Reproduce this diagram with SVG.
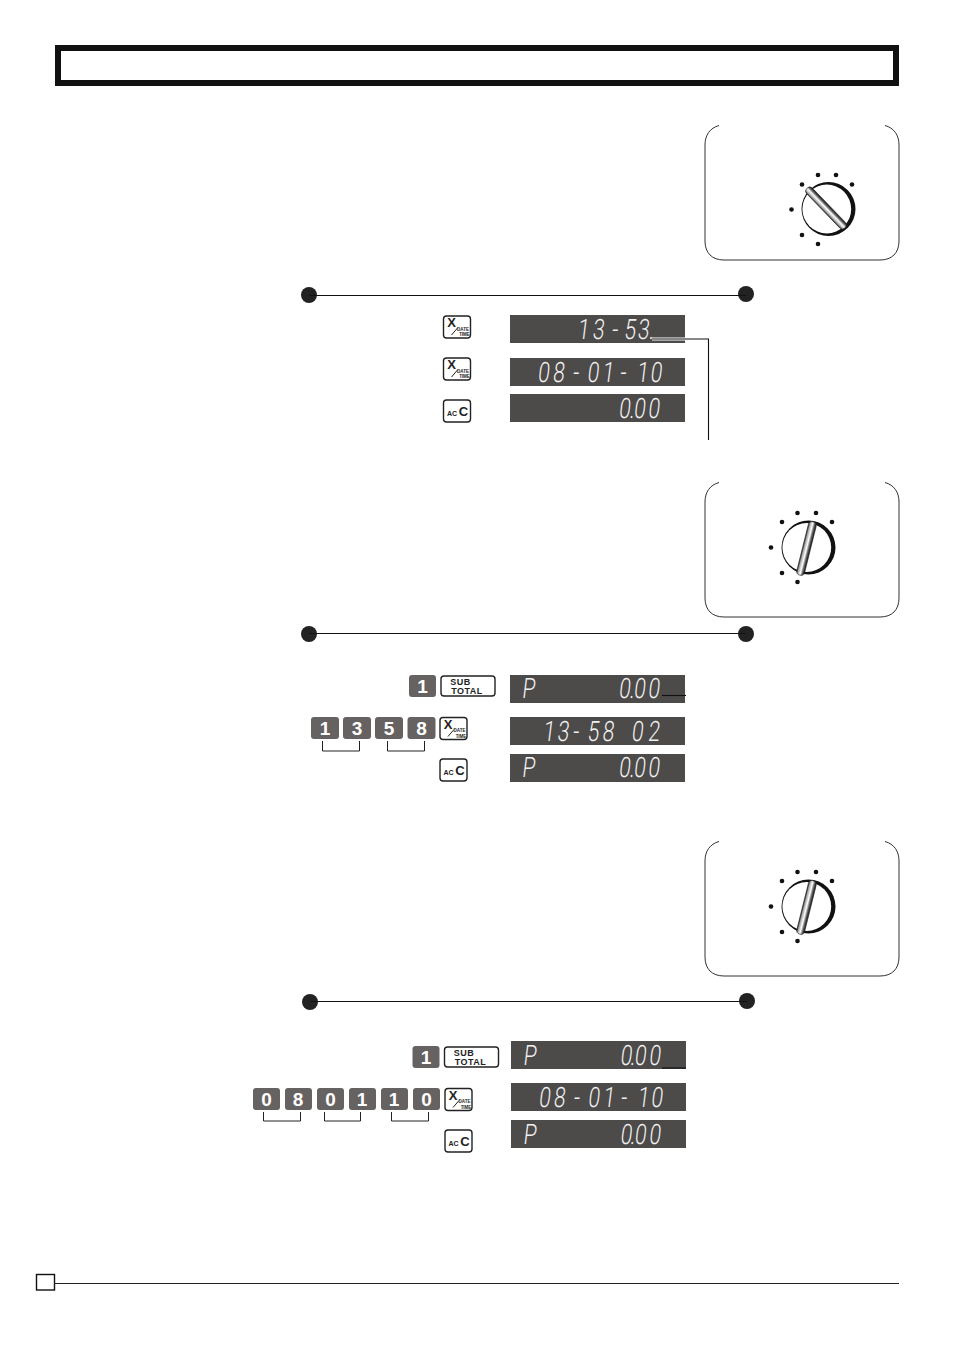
<svg xmlns="http://www.w3.org/2000/svg" xmlns:xlink="http://www.w3.org/1999/xlink" width="954" height="1349" viewBox="0 0 954 1349">
<style>
.panel{fill:none;stroke:#333;stroke-width:1}
.dot{fill:#111}
.disp{fill:#4d4a4a}
.seg{font-family:Roboto,"Liberation Sans",sans-serif;font-weight:300;font-size:28px;fill:#f0f0f0;text-anchor:middle}
.num{fill:#666262}
.numt{font-family:"Liberation Sans",Arial,sans-serif;font-weight:bold;font-size:19px;fill:#fff;text-anchor:middle}
.key{fill:#fff;stroke:#222;stroke-width:1.4}
.kt{font-family:"Liberation Sans",Arial,sans-serif;font-weight:bold;fill:#222;text-anchor:middle}
.wire{fill:none;stroke:#111;stroke-width:1.1}
.brk{fill:none;stroke:#222;stroke-width:1}
.end{fill:#222}
</style>
<defs>
<linearGradient id="stick" x1="0" y1="0" x2="1" y2="0"><stop offset="0" stop-color="#222"/><stop offset=".2" stop-color="#aaa"/><stop offset=".5" stop-color="#fff"/><stop offset=".75" stop-color="#666"/><stop offset="1" stop-color="#111"/></linearGradient>
<g id="mul"><rect class="key" x="0" y="0" width="27" height="22" rx="3"/><text class="kt" x="8" y="11" font-size="13">X</text><path d="M8 19L14 12" stroke="#222" stroke-width="1" fill="none"/><text class="kt" x="19.500" y="14.500" font-size="4.500">DATE</text><text class="kt" x="21" y="20" font-size="4.500">TIME</text></g>
<g id="ac"><rect class="key" x="0" y="0" width="27" height="22" rx="3"/><text class="kt" x="8.500" y="16" font-size="7">AC</text><text class="kt" x="20" y="15.500" font-size="13">C</text></g>
<g id="sub"><rect class="key" x="0" y="0" width="54" height="20" rx="3"/><text class="kt" x="19.500" y="8.500" font-size="9" letter-spacing=".5">SUB</text><text class="kt" x="26" y="18" font-size="9" letter-spacing=".5">TOTAL</text></g>
<g id="dial2">
<circle cx="808.500" cy="547.500" r="27" fill="#111"/>
<circle cx="806.800" cy="547.500" r="24.400" fill="#fff"/>
<g transform="rotate(14 806.500 548.500)"><rect x="802.500" y="521" width="8" height="55" rx="4" fill="url(#stick)" stroke="#222" stroke-width=".6"/></g>
<circle class="dot" cx="782" cy="522" r="2.300"/><circle class="dot" cx="797.500" cy="513" r="2.300"/><circle class="dot" cx="816" cy="513" r="2.300"/><circle class="dot" cx="832" cy="522" r="2.300"/><circle class="dot" cx="771" cy="547.500" r="2.300"/><circle class="dot" cx="782" cy="573" r="2.300"/><circle class="dot" cx="797.500" cy="582" r="2.300"/>
</g>
</defs>
<rect width="954" height="1349" fill="#fff"/>

<g id="header"><rect x="58" y="48" width="838" height="35" fill="#fff" stroke="#111" stroke-width="6"/></g>

<g id="panel1">
<path class="panel" d="M719 125.500C710 128 705 135 705 145V241C705 253 712 260 724 260H880C892 260 899 253 899 241V145C899 135 894 128 885 125.500"/>
<circle cx="828.500" cy="209" r="27" fill="#111"/>
<circle cx="826.800" cy="209" r="24.400" fill="#fff"/>
<g transform="rotate(-44 826 208)"><rect x="822" y="180.500" width="8" height="55" rx="4" fill="url(#stick)" stroke="#222" stroke-width=".6"/></g>
<circle class="dot" cx="802" cy="184.500" r="2.300"/><circle class="dot" cx="818" cy="175" r="2.300"/><circle class="dot" cx="836" cy="175" r="2.300"/><circle class="dot" cx="852" cy="184.500" r="2.300"/><circle class="dot" cx="791.500" cy="209.500" r="2.300"/><circle class="dot" cx="802" cy="235" r="2.300"/><circle class="dot" cx="818" cy="244" r="2.300"/>
</g>
<g id="panel2">
<path class="panel" d="M719 482.500C710 485 705 492 705 502V598C705 610 712 617 724 617H880C892 617 899 610 899 598V502C899 492 894 485 885 482.500"/>
<use xlink:href="#dial2" href="#dial2"/>
</g>
<g id="panel3">
<path class="panel" d="M719 841.500C710 844 705 851 705 861V957C705 969 712 976 724 976H880C892 976 899 969 899 957V861C899 851 894 844 885 841.500"/>
<use xlink:href="#dial2" href="#dial2" y="359"/>
</g>

<g id="timeline1"><circle class="end" cx="309" cy="295" r="8"/><circle class="end" cx="746" cy="294" r="8"/></g>
<g id="timeline2"><circle class="end" cx="309" cy="634" r="8"/><circle class="end" cx="746" cy="634" r="8"/></g>
<g id="timeline3"><circle class="end" cx="310" cy="1002" r="8"/><circle class="end" cx="747" cy="1001" r="8"/></g>

<g id="display1"><rect class="disp" x="510" y="315" width="175" height="28"/><text class="seg" transform="translate(0,339) skewX(-7) scale(.75,1)" x="777 797 819 839 857 868" y="0">13-53.</text></g>
<g id="display2"><rect class="disp" x="510" y="358" width="175" height="28"/><text class="seg" transform="translate(0,382) skewX(-7) scale(.75,1)" x="724 744 767 790 810 830 856 874" y="0">08-01-10</text></g>
<g id="display3"><rect class="disp" x="510" y="394" width="175" height="28"/><text class="seg" transform="translate(0,418) skewX(-7) scale(.75,1)" x="832 842 852 871" y="0">0.00</text></g>
<g id="display4"><rect class="disp" x="510" y="675" width="175" height="28"/><text class="seg" transform="translate(0,698) skewX(-7) scale(.75,1)" x="704 832 842 852 871" y="0">P0.00</text></g>
<g id="display5"><rect class="disp" x="510" y="717" width="175" height="28"/><text class="seg" transform="translate(0,741) skewX(-7) scale(.75,1)" x="731 750 767 790 810 849 871" y="0">13-5802</text></g>
<g id="display6"><rect class="disp" x="510" y="754" width="175" height="28"/><text class="seg" transform="translate(0,777) skewX(-7) scale(.75,1)" x="704 832 842 852 871" y="0">P0.00</text></g>
<g id="display7"><rect class="disp" x="511" y="1041" width="175" height="28"/><text class="seg" transform="translate(0,1065) skewX(-7) scale(.75,1)" x="705.500 834 843 853 872.500" y="0">P0.00</text></g>
<g id="display8"><rect class="disp" x="511" y="1083" width="175" height="28"/><text class="seg" transform="translate(0,1107) skewX(-7) scale(.75,1)" x="725.500 745 768 791 811 831 857 875" y="0">08-01-10</text></g>
<g id="display9"><rect class="disp" x="511" y="1120" width="175" height="28"/><text class="seg" transform="translate(0,1144) skewX(-7) scale(.75,1)" x="705.500 834 843 853 872.500" y="0">P0.00</text></g>

<g id="connectors">
<path d="M652 339H685" fill="none" stroke="#fff" stroke-width="3"/>
<path class="wire" d="M652 339H708.500V440"/>
<path class="wire" d="M662 695.500H686"/>
<path class="wire" d="M662 1068H686"/>
<path class="wire" d="M309 295.500H746"/>
<path class="wire" d="M309 633.500H746"/>
<path class="wire" d="M310 1001.500H747"/>
<path class="brk" d="M322.500 741V751H359.500V741M387.500 741V751H424.500V741"/>
<path class="brk" d="M263.500 1112V1121H300.500V1112M324.500 1112V1121H360.500V1112M391.500 1112V1121H428.500V1112"/>
</g>

<g id="keys1">
<use xlink:href="#mul" href="#mul" x="443.500" y="316"/>
<use xlink:href="#mul" href="#mul" x="443.500" y="358"/>
<use xlink:href="#ac" href="#ac" x="443.500" y="400"/>
</g>
<g id="keys2">
<rect class="num" x="409" y="675" width="27" height="22" rx="3"/><text class="numt" x="422.500" y="693">1</text>
<use xlink:href="#sub" href="#sub" x="441" y="676"/>
<rect class="num" x="311" y="717" width="28" height="22" rx="3"/><text class="numt" x="325" y="735">1</text>
<rect class="num" x="343" y="717" width="28" height="22" rx="3"/><text class="numt" x="357" y="735">3</text>
<rect class="num" x="375" y="717" width="28" height="22" rx="3"/><text class="numt" x="389" y="735">5</text>
<rect class="num" x="407.500" y="717" width="28" height="22" rx="3"/><text class="numt" x="421.500" y="735">8</text>
<use xlink:href="#mul" href="#mul" x="440" y="717.500"/>
<use xlink:href="#ac" href="#ac" x="440" y="759"/>
</g>
<g id="keys3">
<rect class="num" x="412.500" y="1046" width="27" height="22" rx="3"/><text class="numt" x="426" y="1064">1</text>
<use xlink:href="#sub" href="#sub" x="444.500" y="1047"/>
<rect class="num" x="253" y="1088" width="27" height="22" rx="3"/><text class="numt" x="266.500" y="1106">0</text>
<rect class="num" x="285" y="1088" width="27" height="22" rx="3"/><text class="numt" x="298" y="1106">8</text>
<rect class="num" x="317" y="1088" width="27" height="22" rx="3"/><text class="numt" x="330.500" y="1106">0</text>
<rect class="num" x="349" y="1088" width="27" height="22" rx="3"/><text class="numt" x="362" y="1106">1</text>
<rect class="num" x="381" y="1088" width="27" height="22" rx="3"/><text class="numt" x="394" y="1106">1</text>
<rect class="num" x="413" y="1088" width="27" height="22" rx="3"/><text class="numt" x="426.500" y="1106">0</text>
<use xlink:href="#mul" href="#mul" x="445" y="1088.500"/>
<use xlink:href="#ac" href="#ac" x="445" y="1130"/>
</g>

<g id="footer"><rect x="36.500" y="1274.500" width="18" height="15.500" fill="#fff" stroke="#111" stroke-width="1.400"/><path d="M54 1283.500H899" stroke="#222" stroke-width="1.100" fill="none"/></g>
</svg>
